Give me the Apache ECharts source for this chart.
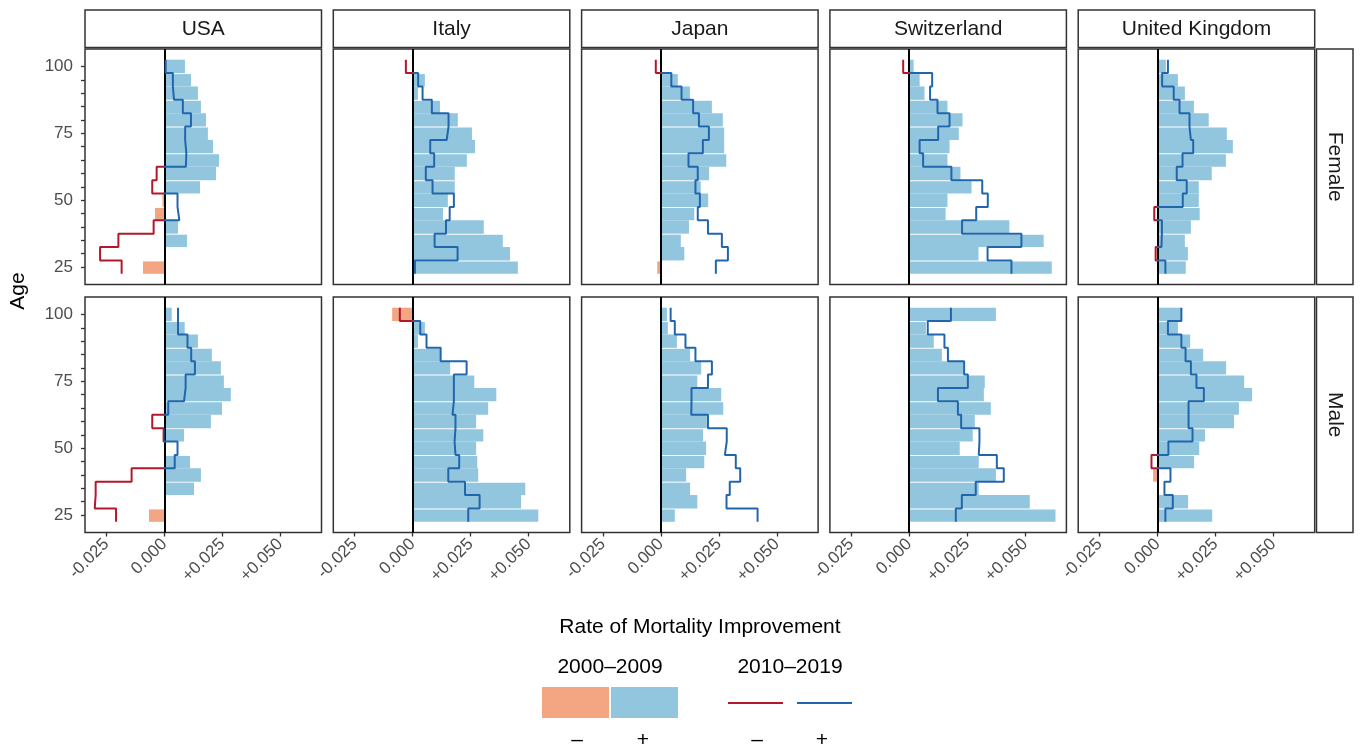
<!DOCTYPE html>
<html>
<head>
<meta charset="utf-8">
<script src="https://cdn.jsdelivr.net/npm/echarts@6.0.0/dist/echarts.min.js"></script>
<style>
  html, body { margin: 0; padding: 0; background: #fff; }
  #chart_container { width: 1361px; height: 747px; }
</style>
</head>
<body>
<div id="chart_container"></div>
<script>
// age groups, top to bottom
const ages = [100, 95, 90, 85, 80, 75, 70, 65, 60, 55, 50, 45, 40, 35, 30, 25];
const countries = ['USA', 'Italy', 'Japan', 'Switzerland', 'United Kingdom'];
const sexes = ['Female', 'Male'];
const xTicks = [-0.025, 0, 0.025, 0.05];
const ageTicks = [25, 30, 35, 40, 45, 50, 55, 60, 65, 70, 75, 80, 85, 90, 95, 100];
const ageLabels = [25, 50, 75, 100];

// 2000-2009 (bars) and 2010-2019 (step line), female
const usaF00 = [0.0089, 0.0115, 0.0145, 0.0158, 0.018, 0.0188, 0.021, 0.0236, 0.0223, 0.0154, -0.0008, -0.004, 0.0059, 0.0098, 0, -0.0092];
const usaF10 = [0.0006, 0.0037, 0.0042, 0.008, 0.0115, 0.009, 0.0095, 0.0093, -0.0033, -0.0052, 0.0057, 0.0065, -0.0046, -0.0198, -0.0277, -0.0184];
const itaF00 = [0, 0.0053, 0.0023, 0.0118, 0.0195, 0.0256, 0.0269, 0.0234, 0.0182, 0.0182, 0.0152, 0.0131, 0.0307, 0.0389, 0.042, 0.0454];
const itaF10 = [-0.0029, 0.0024, 0.0043, 0.0083, 0.0155, 0.0147, 0.0076, 0.0093, 0.0057, 0.0086, 0.0178, 0.016, 0.0144, 0.0095, 0.0194, 0.001];
const jpnF00 = [0, 0.0073, 0.0125, 0.022, 0.0267, 0.0273, 0.0273, 0.0282, 0.0208, 0.0172, 0.0204, 0.0144, 0.0121, 0.0086, 0.0101, -0.0016];
const jpnF10 = [-0.0022, 0.0045, 0.0089, 0.0139, 0.0164, 0.0207, 0.0181, 0.0119, 0.0159, 0.0149, 0.0168, 0.0159, 0.0203, 0.0263, 0.0289, 0.0237];
const swiF00 = [0.0019, 0.0045, 0.0066, 0.0165, 0.023, 0.0214, 0.0174, 0.0165, 0.0221, 0.0269, 0.0165, 0.0157, 0.0432, 0.058, 0.0299, 0.0615];
const swiF10 = [-0.0026, 0.0099, 0.009, 0.0122, 0.0174, 0.0125, 0.0045, 0.006, 0.0182, 0.0315, 0.0339, 0.0289, 0.0228, 0.0484, 0.0338, 0.0441];
const ukF00 = [0.0036, 0.0088, 0.0118, 0.0157, 0.0221, 0.0299, 0.0325, 0.0295, 0.0234, 0.0178, 0.0178, 0.0182, 0.0144, 0.0118, 0.0131, 0.0122];
const ukF10 = [0.0045, 0.002, 0.007, 0.0095, 0.0138, 0.0144, 0.0154, 0.0108, 0.0083, 0.0126, 0.0109, -0.0014, 0.0019, 0.0017, -0.0008, 0.0034];

// male
const usaM00 = [0.0032, 0.0088, 0.0145, 0.0205, 0.0244, 0.0257, 0.0287, 0.0249, 0.0201, 0.0085, 0, 0.0111, 0.0158, 0.0128, 0, -0.0066];
const usaM10 = [0.0059, 0.0059, 0.01, 0.0116, 0.0132, 0.0092, 0.0085, 0.0017, -0.0052, -0.0003, 0.0057, 0.0045, -0.0141, -0.0296, -0.03, -0.0208];
const itaM00 = [-0.0088, 0.0053, 0.0023, 0.0121, 0.0162, 0.0266, 0.0361, 0.0326, 0.0274, 0.0305, 0.0274, 0.0279, 0.0283, 0.0486, 0.0468, 0.0542];
const itaM10 = [-0.0055, 0.0033, 0.006, 0.0121, 0.0233, 0.0178, 0.0178, 0.0172, 0.0185, 0.0181, 0.0185, 0.0201, 0.0154, 0.0226, 0.0289, 0.024];
const jpnM00 = [0.0026, 0.003, 0.0069, 0.0126, 0.0174, 0.0157, 0.026, 0.0269, 0.0198, 0.0182, 0.0195, 0.0187, 0.0109, 0.0126, 0.0157, 0.006];
const jpnM10 = [0.0042, 0.006, 0.0106, 0.0149, 0.022, 0.0203, 0.0132, 0.0131, 0.0203, 0.0284, 0.0276, 0.0323, 0.0342, 0.0297, 0.0283, 0.0417];
const swiM00 = [0.0374, 0.0072, 0.0106, 0.0141, 0.0236, 0.0326, 0.0322, 0.0352, 0.0283, 0.0274, 0.0218, 0.03, 0.0374, 0.03, 0.052, 0.0631];
const swiM10 = [0.018, 0.008, 0.0152, 0.0167, 0.0237, 0.0253, 0.0124, 0.021, 0.0224, 0.0303, 0.03, 0.0378, 0.0408, 0.0287, 0.0227, 0.0201];
const ukM00 = [0.0105, 0.0088, 0.0141, 0.0197, 0.0296, 0.0374, 0.0408, 0.0351, 0.033, 0.0205, 0.018, 0.0158, -0.0019, 0, 0.0132, 0.0236];
const ukM10 = [0.0103, 0.0045, 0.0103, 0.0121, 0.0144, 0.0168, 0.02, 0.0134, 0.0134, 0.0151, 0.0047, -0.0026, 0.0056, 0.003, 0.0066, 0.0034];

const bars = [[usaF00, itaF00, jpnF00, swiF00, ukF00], [usaM00, itaM00, jpnM00, swiM00, ukM00]];
const lines = [[usaF10, itaF10, jpnF10, swiF10, ukF10], [usaM10, itaM10, jpnM10, swiM10, ukM10]];

const FONT = '"Liberation Sans", Arial, sans-serif';
const barNeg = '#F4A582', barPos = '#92C5DE';
const lineNeg = '#B2182B', linePos = '#2166AC';

// panel layout
const panelLeft = 85, panelStep = 248.3, panelW = 236.5, panelH = 235.5;
const rowTop = [49, 297];
const xMin = -0.0342, xMax = 0.0678, yMin = 18.5, yMax = 106.5;

function fmtRate(v) {
    if (Math.abs(v) < 1e-9) return '0.000';
    return (v > 0 ? '+' : '-') + Math.abs(v).toFixed(3);
}

function renderBar(params, api) {
    let v = api.value(0), age = api.value(1);
    let p0 = api.coord([0, age + 2.5]);
    let p1 = api.coord([v, age - 2.5]);
    let top = p0[1];
    if (age % 10 === 5) top += 1; // thin white gap every 10 years
    return {
        type: 'rect',
        shape: { x: Math.min(p0[0], p1[0]), y: top, width: Math.abs(p1[0] - p0[0]), height: p1[1] - top },
        style: { fill: v < 0 ? barNeg : barPos }
    };
}

function stepData(vals) {
    let pts = [];
    vals.forEach((v, i) => {
        pts.push([v, ages[i] + 2.5]);
        pts.push([v, ages[i] - 2.5]);
    });
    return pts;
}

document.addEventListener('DOMContentLoaded', function () {
    let chart = echarts.init(document.getElementById('chart_container'));

    let grids = [], xAxes = [], yAxes = [], series = [], lineIdx = [], graphics = [];

    sexes.forEach((sex, r) => {
        countries.forEach((country, c) => {
            let g = r * 5 + c;
            grids.push({
                left: panelLeft + c * panelStep, top: rowTop[r], width: panelW, height: panelH,
                show: true, borderColor: '#333', borderWidth: 1.5, backgroundColor: '#fff'
            });
            xAxes.push({
                gridIndex: g, type: 'value', min: xMin, max: xMax, position: 'bottom',
                splitLine: { show: false }, axisLine: { show: false, onZero: false },
                axisTick: { show: r === 1, customValues: xTicks, length: 4, lineStyle: { color: '#333', width: 1.3 } },
                axisLabel: {
                    show: r === 1, customValues: xTicks, rotate: 45, margin: 9,
                    color: '#4d4d4d', fontSize: 17, fontFamily: FONT, formatter: fmtRate
                }
            });
            yAxes.push({
                gridIndex: g, type: 'value', min: yMin, max: yMax, position: 'left',
                splitLine: { show: false }, axisLine: { show: false, onZero: false },
                axisTick: { show: c === 0, customValues: ageTicks, length: 4, lineStyle: { color: '#333', width: 1.3 } },
                axisLabel: {
                    show: c === 0, customValues: ageLabels, margin: 12,
                    color: '#4d4d4d', fontSize: 17, fontFamily: FONT
                }
            });
            series.push({
                name: country + ' ' + sex + ' 2000-2009', type: 'custom',
                xAxisIndex: g, yAxisIndex: g, z: 2, silent: true,
                data: bars[r][c].map((v, i) => [v, ages[i]]),
                encode: { x: 0, y: 1 },
                renderItem: renderBar,
                markLine: {
                    silent: true, symbol: 'none', z: 3,
                    label: { show: false },
                    lineStyle: { color: '#000', width: 2, type: 'solid' },
                    data: [{ xAxis: 0 }]
                }
            });
            lineIdx.push(series.length);
            series.push({
                name: country + ' ' + sex + ' 2010-2019', type: 'line',
                xAxisIndex: g, yAxisIndex: g, z: 6, silent: true,
                showSymbol: false, symbol: 'none',
                lineStyle: { width: 2 },
                data: stepData(lines[r][c])
            });

            // country strips
            if (r === 0) {
                graphics.push({
                    type: 'rect', shape: { x: panelLeft + c * panelStep, y: 10, width: panelW, height: 37.5 },
                    style: { fill: '#fff', stroke: '#333', lineWidth: 1.5 }
                });
                graphics.push({
                    type: 'text', x: panelLeft + c * panelStep + panelW / 2, y: 29,
                    style: { text: country, font: '21px ' + FONT, fill: '#1a1a1a', textAlign: 'center', textVerticalAlign: 'middle' }
                });
            }
        });
        // sex strips
        graphics.push({
            type: 'rect', shape: { x: 1316.5, y: rowTop[r], width: 36.5, height: panelH },
            style: { fill: '#fff', stroke: '#333', lineWidth: 1.5 }
        });
        graphics.push({
            type: 'text', x: 1335, y: rowTop[r] + panelH / 2, rotation: -Math.PI / 2,
            style: { text: sex, font: '21px ' + FONT, fill: '#1a1a1a', textAlign: 'center', textVerticalAlign: 'middle' }
        });
    });

    // axis titles
    graphics.push({
        type: 'text', x: 18, y: 291, rotation: Math.PI / 2,
        style: { text: 'Age', font: '21px ' + FONT, fill: '#000', textAlign: 'center', textVerticalAlign: 'middle' }
    });
    graphics.push({
        type: 'text', x: 700, y: 627,
        style: { text: 'Rate of Mortality Improvement', font: '21px ' + FONT, fill: '#000', textAlign: 'center', textVerticalAlign: 'middle' }
    });

    // legend
    let legendText = (t, x, y) => ({
        type: 'text', x: x, y: y,
        style: { text: t, font: '21px ' + FONT, fill: '#000', textAlign: 'center', textVerticalAlign: 'middle' }
    });
    graphics.push(legendText('2000\u20132009', 610, 667));
    graphics.push(legendText('2010\u20132019', 790, 667));
    graphics.push({ type: 'rect', shape: { x: 542, y: 687, width: 67, height: 31 }, style: { fill: barNeg } });
    graphics.push({ type: 'rect', shape: { x: 611, y: 687, width: 67, height: 31 }, style: { fill: barPos } });
    graphics.push({ type: 'line', shape: { x1: 728, y1: 703, x2: 783, y2: 703 }, style: { stroke: lineNeg, lineWidth: 2 } });
    graphics.push({ type: 'line', shape: { x1: 797, y1: 703, x2: 852, y2: 703 }, style: { stroke: linePos, lineWidth: 2 } });
    graphics.push(legendText('\u2013', 577, 740));
    graphics.push(legendText('+', 643, 740));
    graphics.push(legendText('\u2013', 757, 740));
    graphics.push(legendText('+', 822, 740));

    let option = {
        animation: false,
        backgroundColor: '#fff',
        textStyle: { fontFamily: FONT },
        grid: grids,
        xAxis: xAxes,
        yAxis: yAxes,
        visualMap: [{
            type: 'piecewise', show: false, dimension: 0, seriesIndex: lineIdx,
            pieces: [
                { gte: -1, lt: 0, color: lineNeg },
                { gte: 0, lte: 1, color: linePos }
            ]
        }],
        series: series,
        graphic: graphics
    };

    if (chart) {
        chart.setOption(option);
    } else {
        console.error('Echart instance failed to init');
    }
});
</script>
</body>
</html>
